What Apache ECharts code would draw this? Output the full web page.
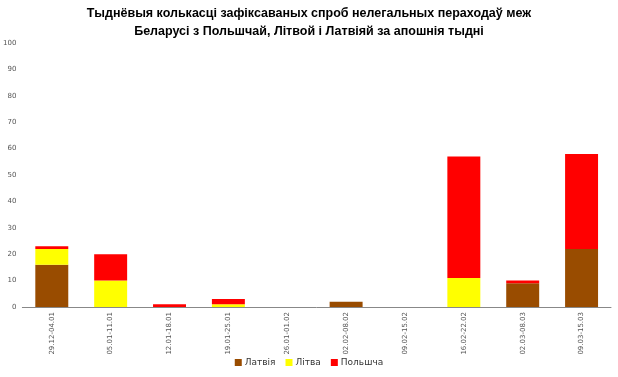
<!DOCTYPE html>
<html>
<head>
<meta charset="utf-8">
<script src="https://cdn.jsdelivr.net/npm/echarts@6/dist/echarts.min.js"></script>
<style>
  html, body { margin: 0; padding: 0; background: #fff; }
  #chart { width: 618px; height: 377px; }
</style>
</head>
<body>
<div id="chart"></div>
<script>
const weeks = ['29.12-04.01', '05.01-11.01', '12.01-18.01', '19.01-25.01', '26.01-01.02',
  '02.02-08.02', '09.02-15.02', '16.02-22.02', '02.03-08.03', '09.03-15.03'];
const latvia = [16, 0, 0, 0, 0, 2, 0, 0, 9, 22];
const lithuania = [6, 10, 0, 1, 0, 0, 0, 11, 0, 0];
const poland = [1, 10, 1, 2, 0, 0, 0, 46, 1, 36];

const chart = echarts.init(document.getElementById('chart'));

function bar(name, data, color) {
  return {
    name: name,
    type: 'bar',
    stack: 'total',
    data: data,
    barWidth: '56%',
    itemStyle: { color: color },
    animation: false
  };
}

chart.setOption({
  title: {
    text: 'Тыднёвыя колькасці зафіксаваных спроб нелегальных пераходаў меж\nБеларусі з Польшчай, Літвой і Латвіяй за апошнія тыдні',
    left: 'center',
    top: 0,
    textStyle: { fontFamily: 'Liberation Sans', fontSize: 12.5, fontWeight: 'bold', color: '#000', lineHeight: 18 }
  },
  legend: {
    bottom: 5,
    left: 'center',
    itemWidth: 7,
    itemHeight: 7,
    itemGap: 10,
    icon: 'rect',
    textStyle: { fontFamily: 'DejaVu Sans', fontSize: 9, color: '#333', padding: [0, 0, 0, -2] },
    data: ['Латвія', 'Літва', 'Польшча']
  },
  grid: { left: 20, right: 7, top: 43, bottom: 70 },
  xAxis: {
    type: 'category',
    data: weeks,
    axisLine: { lineStyle: { color: '#888' } },
    axisTick: { show: false },
    axisLabel: { rotate: 90, fontSize: 7, color: '#555', fontFamily: 'DejaVu Sans', margin: 5 }
  },
  yAxis: {
    type: 'value',
    min: 0,
    max: 100,
    interval: 10,
    splitLine: { show: false },
    axisLabel: { fontSize: 7, color: '#555', fontFamily: 'DejaVu Sans', margin: 6 }
  },
  series: [
    bar('Латвія', latvia, '#994c00'),
    bar('Літва', lithuania, '#ffff00'),
    bar('Польшча', poland, '#ff0000')
  ]
});
</script>
</body>
</html>
